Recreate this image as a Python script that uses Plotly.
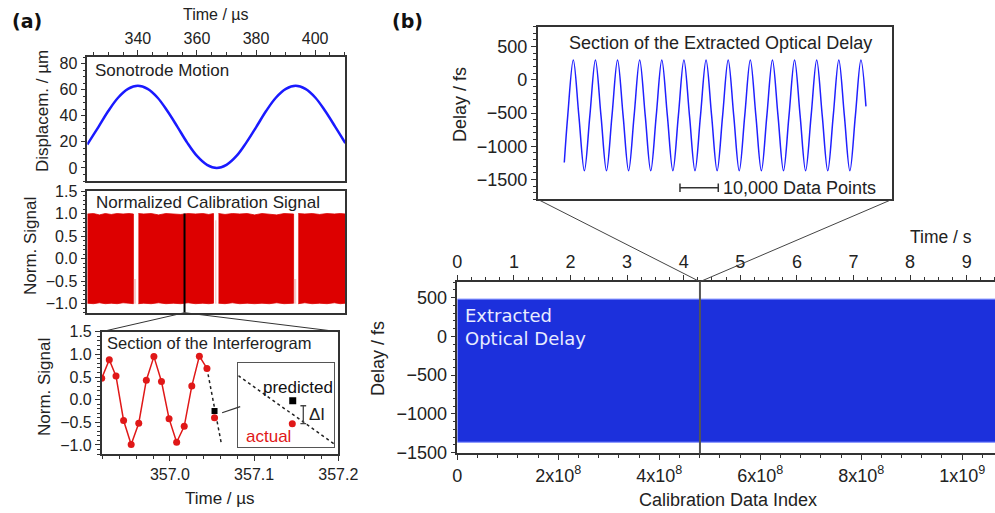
import plotly.graph_objects as go

# ---------------- data ----------------
# (a) top: sonotrode motion
motion_t = [322.9, 323.3, 326.7, 330.0, 333.3, 336.7, 340.0, 343.3, 346.7, 350.0, 353.4, 356.7, 360.0,
            363.4, 366.7, 370.0, 373.4, 376.7, 380.1, 383.4, 386.7, 390.1, 393.4, 396.7, 400.1, 403.4,
            406.8, 410.1, 410.2]
motion_um = [18.0, 19.4, 31.5, 43.6, 53.8, 60.6, 63.0, 60.6, 53.8, 43.6, 31.5, 19.4, 9.2,
             2.4, 0.0, 2.4, 9.2, 19.4, 31.5, 43.6, 53.8, 60.6, 63.0, 60.6, 53.8, 43.6,
             31.5, 19.4, 19.0]

# (a) middle: normalized calibration signal (envelope of the dense signal, per block)
cal_blocks_t = [
    [322.9, 325.0, 327.0, 329.0, 331.0, 333.0, 335.0, 337.0, 338.5],
    [340.2, 342.0, 344.5, 347.0, 349.5, 352.0, 354.5, 357.0, 359.5, 362.0, 364.0, 365.6],
    [367.3, 369.5, 372.0, 374.5, 377.0, 379.5, 382.0, 384.5, 387.0, 389.5, 392.7],
    [394.3, 396.5, 399.0, 401.5, 404.0, 406.5, 408.5, 410.2],
]
cal_blocks_hi = [
    [0.99, 1.00, 0.97, 1.00, 0.98, 1.00, 0.99, 1.00, 0.99],
    [1.00, 0.99, 1.00, 0.97, 1.00, 0.99, 0.98, 1.00, 0.99, 1.00, 0.98, 1.00],
    [1.00, 0.98, 1.00, 0.99, 1.00, 0.97, 1.00, 0.99, 0.97, 1.00, 0.99],
    [1.00, 0.99, 1.00, 0.98, 1.00, 0.99, 1.00, 0.99],
]
cal_blocks_lo = [
    [-0.99, -1.00, -0.98, -1.00, -0.99, -1.00, -0.98, -0.99, -1.00],
    [-1.00, -0.99, -1.00, -0.98, -1.00, -0.99, -1.00, -0.98, -1.00, -0.99, -1.00, -0.99],
    [-0.99, -1.00, -0.98, -1.00, -0.99, -1.00, -0.99, -1.00, -0.98, -1.00, -0.99],
    [-1.00, -0.98, -1.00, -0.99, -1.00, -0.98, -1.00, -0.99],
]
# faint residual signal in the turning-point gaps: [t0, t1, low, high]
cal_gaps = [[338.5, 339.4, -1.0, -0.45], [366.1, 366.6, -1.0, 0.85], [392.7, 393.6, -1.0, -0.45]]
section_t = 355.8

# (a) bottom: section of the interferogram
intf_t = [356.919, 356.928, 356.936, 356.945, 356.954, 356.963, 356.972, 356.981,
          356.990, 356.999, 357.008, 357.017, 357.026, 357.035, 357.044]
intf_s = [0.47, 0.88, 0.52, -0.46, -0.99, -0.52, 0.43, 0.95, 0.40, -0.42, -0.94, -0.59, 0.30, 0.96, 0.69]
pred_line_t = [357.044, 357.061]
pred_line_s = [0.69, -0.96]
next_t = 357.053
predicted_s = -0.25
actual_s = -0.40

# (a) bottom inset (magnified, normalised units)
zoom_line_x = [0.0, 1.0]
zoom_line_y = [0.846, 0.039]
zoom_pred = [0.567, 0.551]
zoom_act = [0.5625, 0.279]

# (b) inset: section of the extracted optical delay
sec_idx = [6945, 7852, 9296, 10741, 12185, 13630, 15074, 16519, 17963, 19408, 20852, 22297,
           23741, 25186, 26630, 28075, 29519, 30964, 32408, 33853, 35297, 36742, 38186, 39631,
           41075, 42520, 43964, 45409, 46853, 48298, 49742, 51187, 52631, 54076, 55520, 56965,
           58409, 59854, 61298, 62743, 64187, 65632, 67076, 68521, 69965, 71410, 72854, 74299,
           75743, 77188, 78632, 80077, 81521, 82966, 84410, 85720]
sec_delay = [-1245, -535, 300, -535, -1370, -535, 300, -535, -1370, -535, 300, -535,
             -1370, -535, 300, -535, -1370, -535, 300, -535, -1370, -535, 300, -535,
             -1370, -535, 300, -535, -1370, -535, 300, -535, -1370, -535, 300, -535,
             -1370, -535, 300, -535, -1370, -535, 300, -535, -1370, -535, 300, -535,
             -1370, -535, 300, -535, -1370, -535, 300, -400]
scalebar_idx = [37155, 47155]
scalebar_delay = [-1626, -1626]

# (b) main: extracted optical delay envelope
delay_idx = [0, 1.065e9]
delay_max = [480, 480]
delay_min = [-1366, -1366]
sample_rate = 1.121e8          # data points per second (index -> time axis)
section_idx = 4.806e8

# ---------------- layout helpers ----------------
W, H = 995, 513
def xd(a, b):
    return [a / W, b / W]
def yd(top, bottom):
    return [1 - bottom / H, 1 - top / H]

A1x, A1y = xd(87.3, 345.3), yd(57, 181)
A2x, A2y = xd(87.3, 345.3), yd(191, 312.7)
A3x, A3y = xd(101.7, 338.3), yd(331.7, 454)
A4x, A4y = xd(238.3, 334.3), yd(362.7, 447.3)
B1x, B1y = xd(537.7, 892.3), yd(26.7, 199.3)
B2x, B2y = xd(457.3, 995), yd(281.7, 453.3)

rA_t = [322.9, 410.2]
rA1 = [-10, 85]
rA2 = [-1.2, 1.5]
rA3x = [356.919, 357.2]
rA3y = [-1.2, 1.5]
rB1x = [0, 92600]
rB1y = [-1800, 800]
rB2x = [0, 1.065e9]
rB2y = [-1510, 705]

def to_paper(xv, yv, dx, rx, dy, ry):
    px = dx[0] + (xv - rx[0]) / (rx[1] - rx[0]) * (dx[1] - dx[0])
    py = dy[0] + (yv - ry[0]) / (ry[1] - ry[0]) * (dy[1] - dy[0])
    return px, py

TXT = "#222222"
AX = "#333333"
FONT = "Liberation Sans, Arial, sans-serif"
TICK_A = dict(family=FONT, size=16, color=TXT)
TICK_B = dict(family=FONT, size=18, color=TXT)

fig = go.Figure()

# (a) top
fig.add_trace(go.Scatter(x=motion_t, y=motion_um, mode="lines", line=dict(color="#1a1aff", width=2.5, shape="spline"),
                         xaxis="x", yaxis="y", showlegend=False, hoverinfo="skip"))
# (a) middle
for t, hi, lo in zip(cal_blocks_t, cal_blocks_hi, cal_blocks_lo):
    fig.add_trace(go.Scatter(x=t + t[::-1], y=hi + lo[::-1], mode="lines", fill="toself",
                             fillcolor="#dd0000", line=dict(color="#dd0000", width=0.8),
                             xaxis="x2", yaxis="y2", showlegend=False, hoverinfo="skip"))
for g in cal_gaps:
    fig.add_trace(go.Scatter(x=[g[0], g[1], g[1], g[0]], y=[g[2], g[2], g[3], g[3]], mode="lines", fill="toself",
                             fillcolor="rgba(230,110,110,0.35)", line=dict(width=0),
                             xaxis="x2", yaxis="y2", showlegend=False, hoverinfo="skip"))
# (a) bottom
fig.add_trace(go.Scatter(x=pred_line_t, y=pred_line_s, mode="lines", line=dict(color="#222", width=1.5, dash="dot"),
                         xaxis="x3", yaxis="y3", showlegend=False, hoverinfo="skip"))
fig.add_trace(go.Scatter(x=intf_t, y=intf_s, mode="lines+markers", line=dict(color="#e01818", width=1.5),
                         marker=dict(color="#e01818", size=7), xaxis="x3", yaxis="y3", showlegend=False, hoverinfo="skip"))
fig.add_trace(go.Scatter(x=[next_t], y=[predicted_s], mode="markers", marker=dict(color="black", size=6, symbol="square"),
                         xaxis="x3", yaxis="y3", showlegend=False, hoverinfo="skip"))
fig.add_trace(go.Scatter(x=[next_t], y=[actual_s], mode="markers", marker=dict(color="#e01818", size=7),
                         xaxis="x3", yaxis="y3", showlegend=False, hoverinfo="skip"))
# (a) inset
fig.add_trace(go.Scatter(x=zoom_line_x, y=zoom_line_y, mode="lines", line=dict(color="#222", width=1.5, dash="dot"),
                         xaxis="x4", yaxis="y4", showlegend=False, hoverinfo="skip"))
fig.add_trace(go.Scatter(x=[zoom_pred[0]], y=[zoom_pred[1]], mode="markers", marker=dict(color="black", size=7, symbol="square"),
                         xaxis="x4", yaxis="y4", showlegend=False, hoverinfo="skip"))
fig.add_trace(go.Scatter(x=[zoom_act[0]], y=[zoom_act[1]], mode="markers", marker=dict(color="#e01818", size=7),
                         xaxis="x4", yaxis="y4", showlegend=False, hoverinfo="skip"))
# (b) inset
fig.add_trace(go.Scatter(x=sec_idx, y=sec_delay, mode="lines", line=dict(color="#2020ff", width=1.5, shape="spline"),
                         xaxis="x5", yaxis="y5", showlegend=False, hoverinfo="skip"))
fig.add_trace(go.Scatter(x=scalebar_idx, y=scalebar_delay, mode="lines+markers", line=dict(color="#333", width=1.5),
                         marker=dict(symbol="line-ns", size=6, line=dict(color="#333", width=1.5)),
                         xaxis="x5", yaxis="y5", showlegend=False, hoverinfo="skip"))
# (b) main
fig.add_trace(go.Scatter(x=delay_idx, y=delay_min, mode="lines", line=dict(color="#7080ff", width=1),
                         xaxis="x6", yaxis="y6", showlegend=False, hoverinfo="skip"))
fig.add_trace(go.Scatter(x=delay_idx, y=delay_max, mode="lines", line=dict(color="#7080ff", width=1),
                         fill="tonexty", fillcolor="#1c30dc", xaxis="x6", yaxis="y6", showlegend=False, hoverinfo="skip"))
fig.add_trace(go.Scatter(x=[v / sample_rate for v in delay_idx], y=delay_max, mode="lines", opacity=0,
                         line=dict(width=0), xaxis="x7", yaxis="y6", showlegend=False, hoverinfo="skip"))

def axis(domain, rng, font=TICK_A, **kw):
    d = dict(domain=domain, range=rng, showgrid=False, zeroline=False, showline=True, linecolor=AX, linewidth=1.5,
             tickfont=font, tickcolor=AX, ticklen=5, tickwidth=1.2, fixedrange=True, automargin=False)
    d.update(kw)
    return d

minor = lambda dt: dict(dtick=dt, ticks="outside", ticklen=3, tickcolor=AX, tickwidth=1, showgrid=False)

layout = dict(
    width=W, height=H, margin=dict(l=0, r=0, t=0, b=0, pad=0, autoexpand=False),
    paper_bgcolor="white", plot_bgcolor="white",
    xaxis=axis(A1x, rA_t, anchor="y", side="top", mirror=True, ticks="outside", tickvals=[340, 360, 380, 400],
               minor=minor(5)),
    yaxis=axis(A1y, rA1, anchor="x", mirror=True, ticks="outside", tickvals=[0, 20, 40, 60, 80], minor=minor(5)),
    xaxis2=axis(A2x, rA_t, anchor="y2", mirror=True, ticks="", showticklabels=False),
    yaxis2=axis(A2y, rA2, anchor="x2", mirror=True, ticks="outside", tickvals=[-1.0, -0.5, 0.0, 0.5, 1.0, 1.5],
                tickformat=".1f", minor=minor(0.1)),
    xaxis3=axis(A3x, rA3x, anchor="y3", mirror=True, ticks="outside", tickvals=[357.0, 357.1, 357.2],
                tickformat=".1f", minor=minor(0.02)),
    yaxis3=axis(A3y, rA3y, anchor="x3", mirror=True, ticks="outside", tickvals=[-1.0, -0.5, 0.0, 0.5, 1.0, 1.5],
                tickformat=".1f", minor=minor(0.1)),
    xaxis4=axis(A4x, [0, 1], anchor="y4", mirror=True, ticks="", showticklabels=False, linecolor="#555", linewidth=1.2),
    yaxis4=axis(A4y, [0, 1], anchor="x4", mirror=True, ticks="", showticklabels=False, linecolor="#555", linewidth=1.2),
    xaxis5=axis(B1x, rB1x, anchor="y5", mirror=True, ticks="", showticklabels=False),
    yaxis5=axis(B1y, rB1y, TICK_B, anchor="x5", mirror=True, ticks="outside", tickvals=[-1500, -1000, -500, 0, 500],
                minor=minor(100)),
    xaxis6=axis(B2x, rB2x, TICK_B, anchor="y6", ticks="outside", tickvals=[0, 2e8, 4e8, 6e8, 8e8, 1e9],
                ticktext=["0", "2x10<sup>8</sup>", "4x10<sup>8</sup>", "6x10<sup>8</sup>", "8x10<sup>8</sup>", "1x10<sup>9</sup>"],
                minor=minor(4e7)),
    yaxis6=axis(B2y, rB2y, TICK_B, anchor="x6", ticks="outside", tickvals=[-1500, -1000, -500, 0, 500], minor=minor(100)),
    xaxis7=axis(B2x, [rB2x[0] / sample_rate, rB2x[1] / sample_rate], TICK_B, anchor="y6", overlaying="x6", side="top",
                ticks="outside", dtick=1, tick0=0, minor=minor(0.25)),
)
fig.update_layout(**layout)

# ---- connector and marker shapes ----
shapes = []
shapes.append(dict(type="line", xref="x2", yref="y2", x0=section_t, x1=section_t, y0=rA2[0], y1=1.0,
                   line=dict(color="black", width=2)))
p0 = to_paper(section_t, rA2[0], A2x, rA_t, A2y, rA2)
for cx in (A3x[0], A3x[1]):
    shapes.append(dict(type="line", xref="paper", yref="paper", x0=p0[0], y0=p0[1], x1=cx, y1=A3y[1],
                       line=dict(color="#333", width=1)))
q0 = to_paper(next_t + 0.009, predicted_s - 0.04, A3x, rA3x, A3y, rA3y)
q1 = to_paper(0.02, 0.48, A4x, [0, 1], A4y, [0, 1])
shapes.append(dict(type="line", xref="paper", yref="paper", x0=q0[0], y0=q0[1], x1=q1[0], y1=q1[1],
                   line=dict(color="#333", width=1.2)))
# delta-I bracket
bx = 0.677
for (xa, ya, xb, yb) in [(bx, zoom_act[1], bx, zoom_pred[1] - 0.06), (bx - 0.03, zoom_act[1], bx + 0.03, zoom_act[1]),
                         (bx - 0.03, zoom_pred[1] - 0.06, bx + 0.03, zoom_pred[1] - 0.06)]:
    shapes.append(dict(type="line", xref="x4", yref="y4", x0=xa, y0=ya, x1=xb, y1=yb, line=dict(color="#444", width=1.3)))
# (b) section marker and connectors
shapes.append(dict(type="line", xref="x6", yref="y6 domain", x0=section_idx, x1=section_idx, y0=0, y1=1,
                   line=dict(color="#555", width=2), layer="above"))
r0 = to_paper(section_idx, rB2y[1], B2x, rB2x, B2y, rB2y)
for cx in (B1x[0], B1x[1]):
    shapes.append(dict(type="line", xref="paper", yref="paper", x0=r0[0], y0=r0[1], x1=cx, y1=B1y[0],
                       line=dict(color="#444", width=1)))
fig.update_layout(shapes=shapes)

# ---- text ----
def ann(text, x, y, size=17, color=TXT, family=FONT, xanchor="center", yanchor="middle", angle=0, ref=("paper", "paper")):
    if ref == ("paper", "paper"):
        x, y = x / W, 1 - y / H
    return dict(text=text, x=x, y=y, xref=ref[0], yref=ref[1], showarrow=False, xanchor=xanchor, yanchor=yanchor,
                textangle=angle, font=dict(size=size, color=color, family=family))

anns = [
    ann("<b>(a)</b>", 27, 21, size=19, family="DejaVu Sans, sans-serif", color="#111"),
    ann("<b>(b)</b>", 407, 21, size=19, family="DejaVu Sans, sans-serif", color="#111"),
    ann("Time / µs", 216, 15, size=16),
    ann("Displacem. / µm", 43, 111, angle=-90),
    ann("Sonotrode Motion", 93, 71, xanchor="left"),
    ann("Norm. Signal", 30, 246, angle=-90),
    ann("Normalized Calibration Signal", 94, 203, xanchor="left"),
    ann("Norm. Signal", 44, 387, angle=-90),
    ann("Section of the Interferogram", 105, 343, size=16.5, xanchor="left"),
    ann("Time / µs", 220, 498),
    ann("predicted", 0.623, 0.705, color="#111", ref=("x4", "y4")),
    ann("actual", 0.315, 0.125, color="#e01818", ref=("x4", "y4")),
    ann("ΔI", 0.72, (zoom_act[1] + zoom_pred[1] - 0.06) / 2, color="#222", xanchor="left", ref=("x4", "y4")),
    ann("Delay / fs", 460, 105, size=18, angle=-90),
    ann("Section of the Extracted Optical Delay", 720, 43, size=18),
    ann("10,000 Data Points", scalebar_idx[1] + 700, scalebar_delay[0], size=18, xanchor="left", ref=("x5", "y5")),
    ann("Delay / fs", 378, 359, size=18, angle=-90),
    ann("Calibration Data Index", 728, 500, size=18),
    ann("Time / s", 941, 237, size=17.5),
    ann("Extracted<br>Optical Delay", 463, 303, size=18, color="#e8ecff", family="DejaVu Sans, sans-serif",
        xanchor="left", yanchor="top"),
]
for a in anns:
    if a["text"].startswith("Extracted"):
        a["align"] = "left"
fig.update_layout(annotations=anns)

fig.write_html("out.html", config={"displayModeBar": False},
               post_script="document.body.style.margin='0px';document.body.style.overflow='hidden';")
